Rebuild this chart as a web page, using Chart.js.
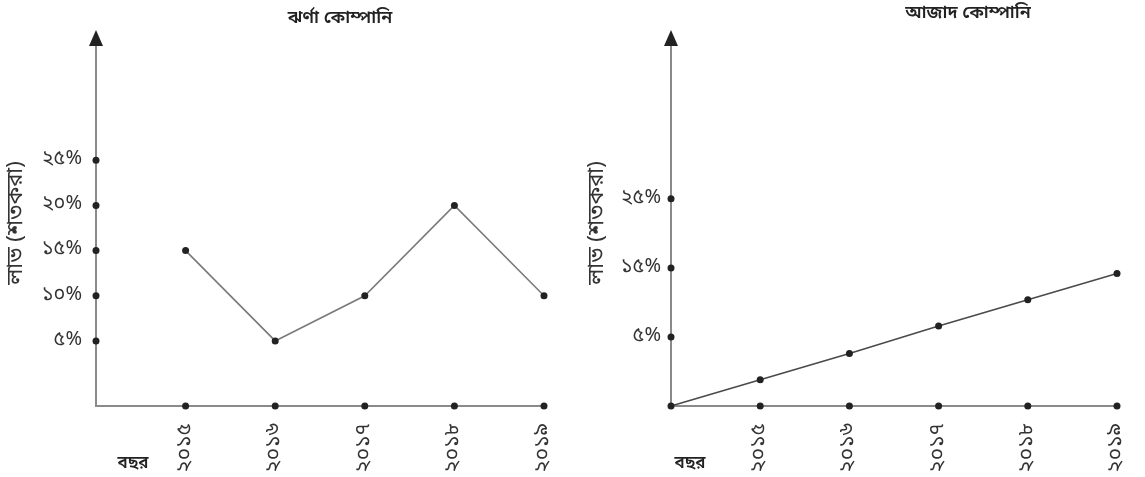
<!DOCTYPE html>
<html>
<head>
<meta charset="utf-8">
<script src="https://cdn.jsdelivr.net/npm/chart.js@4.4.1/dist/chart.umd.min.js"></script>
<style>
  body { margin: 0; background: #fff; }
  #wrap { display: flex; width: 1145px; height: 477px; }
  .box { position: relative; height: 477px; }
</style>
</head>
<body>
<div id="wrap">
  <div class="box" style="width:572px"><canvas id="c1"></canvas></div>
  <div class="box" style="width:573px"><canvas id="c2"></canvas></div>
</div>
<script>
// data
var years = ['', '২০১৫', '২০১৬', '২০১৭', '২০১৮', '২০১৯'];
var jharnaProfit = [null, 15, 5, 10, 20, 10];
var azadProfit = [0, 1.9, 3.8, 5.8, 7.7, 9.6];
var jharnaTicks = [5, 10, 15, 20, 25];
var jharnaTickLabels = ['৫%', '১০%', '১৫%', '২০%', '২৫%'];
var azadTicks = [5, 10, 15];
var azadTickLabels = ['৫%', '১৫%', '২৫%'];

var FONT = '"Noto Sans Bengali", "Lohit Bengali", "FreeSans", "Noto Sans", sans-serif';

function dot(ctx, x, y) {
  ctx.beginPath();
  ctx.arc(x, y, 3.5, 0, Math.PI * 2);
  ctx.fill();
}

// arrow, axis dots, title and the "year" caption
var extras = {
  id: 'extras',
  afterDraw: function(chart, args, opts) {
    var ctx = chart.ctx, x = chart.scales.x, y = chart.scales.y;
    var ax = x.left;
    ctx.save();
    ctx.fillStyle = '#222';
    ctx.beginPath();
    ctx.moveTo(ax, y.top - 10);
    ctx.lineTo(ax - 7, y.top + 6);
    ctx.lineTo(ax + 7, y.top + 6);
    ctx.closePath();
    ctx.fill();
    y.ticks.forEach(function(t) { dot(ctx, ax, y.getPixelForValue(t.value)); });
    for (var i = 1; i < years.length; i++) dot(ctx, x.getPixelForValue(i), y.bottom);
    ctx.fillStyle = '#222';
    ctx.textAlign = 'center';
    ctx.textBaseline = 'middle';
    ctx.font = '600 18px ' + FONT;
    ctx.fillText(opts.title, opts.titleX, opts.titleY);
    ctx.font = '600 17px ' + FONT;
    ctx.fillText('বছর', opts.capX, 465);
    ctx.restore();
  }
};

function makeChart(id, values, lineColor, ticks, tickLabels, yMin, yMax, yWidth, tickPad, titlePad, plug) {
  return new Chart(document.getElementById(id), {
    type: 'line',
    data: {
      labels: years,
      datasets: [{
        data: values,
        borderColor: lineColor,
        borderWidth: 1.6,
        pointRadius: 3.5,
        pointBackgroundColor: '#222',
        pointBorderWidth: 0,
        tension: 0,
        clip: false
      }]
    },
    options: {
      responsive: true,
      maintainAspectRatio: false,
      animation: false,
      events: [],
      layout: { padding: { top: 40, right: 28, left: 0, bottom: 0 } },
      plugins: { legend: { display: false }, tooltip: { enabled: false }, extras: plug },
      scales: {
        x: {
          offset: false,
          grid: { display: false, drawTicks: false },
          border: { color: '#8a8a8a', width: 2 },
          afterFit: function(s) { s.height = 71; s.paddingLeft = 0; s.paddingRight = 0; },
          ticks: {
            autoSkip: false, minRotation: 90, maxRotation: 90, padding: 17,
            color: '#333', font: { family: FONT, size: 21 }
          }
        },
        y: {
          min: yMin,
          max: yMax,
          grid: { display: false, drawTicks: false },
          border: { color: '#8a8a8a', width: 2 },
          afterFit: function(s) { s.width = yWidth; },
          afterBuildTicks: function(s) { s.ticks = ticks.map(function(v) { return { value: v }; }); },
          ticks: {
            padding: tickPad, color: '#333', font: { family: FONT, size: 20 },
            callback: function(v, i) { return tickLabels[i]; }
          },
          title: {
            display: true, text: 'লাভ (শতকরা)', color: '#333',
            font: { family: FONT, size: 22 }, padding: { top: titlePad, bottom: 0 }
          }
        }
      }
    },
    plugins: [extras]
  });
}

makeChart('c1', jharnaProfit, '#7a7a7a', jharnaTicks, jharnaTickLabels, -2.2, 38.3, 96, 14, 5,
  { title: 'ঝর্ণা কোম্পানি', titleX: 340, titleY: 20, capX: 133 });
makeChart('c2', azadProfit, '#4a4a4a', azadTicks, azadTickLabels, 0, 26.5, 99, 10, 14,
  { title: 'আজাদ কোম্পানি', titleX: 396, titleY: 15, capX: 118 });
</script>
</body>
</html>
